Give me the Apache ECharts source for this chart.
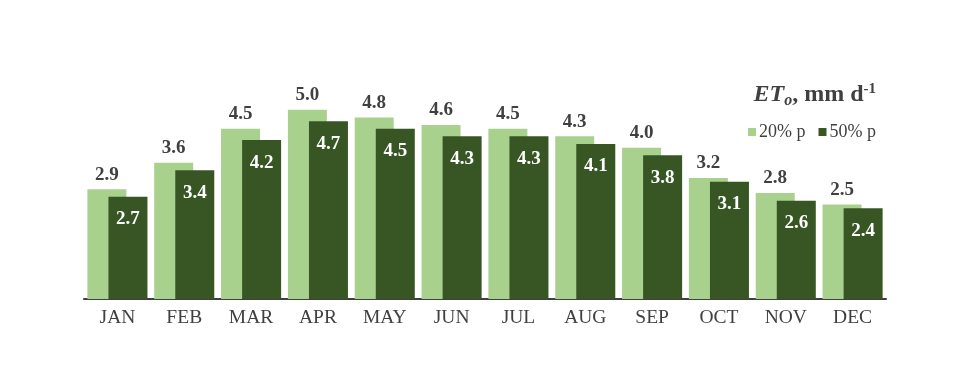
<!DOCTYPE html>
<html><head><meta charset="utf-8">
<script src="https://cdn.jsdelivr.net/npm/echarts@6/dist/echarts.min.js"></script>
<style>html,body{margin:0;padding:0;background:#fff}#c{width:972px;height:388px}</style>
</head><body><div id="c"></div>
<script>
const categories = ['JAN','FEB','MAR','APR','MAY','JUN','JUL','AUG','SEP','OCT','NOV','DEC'];
const p20 = [2.9,3.6,4.5,5.0,4.8,4.6,4.5,4.3,4.0,3.2,2.8,2.5];
const p50 = [2.7,3.4,4.2,4.7,4.5,4.3,4.3,4.1,3.8,3.1,2.6,2.4];
const seriesNames = ['20% p','50% p'];

const serif = '"Liberation Serif","Times New Roman",serif';
const chart = echarts.init(document.getElementById('c'));
chart.setOption({
  animation:false,
  textStyle:{fontFamily:serif},
  title:{
    right:91, top:76,
    text:'{a|ET}{b|o}{c|, mm d}{d|-1}',
    textStyle:{
      rich:{
        a:{fontFamily:serif,fontSize:24,fontWeight:'bold',fontStyle:'italic',color:'#404040'},
        b:{fontFamily:serif,fontSize:16,fontWeight:'bold',fontStyle:'italic',color:'#404040',padding:[12,0,0,0]},
        c:{fontFamily:serif,fontSize:24,fontWeight:'bold',color:'#404040'},
        d:{fontFamily:serif,fontSize:15,fontWeight:'bold',color:'#404040',padding:[0,0,11,0]}
      }
    }
  },
  legend:{
    left:743, top:118,
    icon:'rect', itemWidth:8, itemHeight:8, itemGap:13,
    textStyle:{fontFamily:serif,fontSize:18,color:'#404040',padding:[0,0,0,-2]},
    data:seriesNames
  },
  grid:{left:84,right:86,top:72,bottom:89},
  xAxis:{
    type:'category', data:categories,
    axisLine:{lineStyle:{color:'#404040',width:2}},
    axisTick:{show:false},
    axisLabel:{fontFamily:serif,fontSize:19.5,color:'#404040',margin:9}
  },
  yAxis:{type:'value',min:0,max:6,show:false,splitLine:{show:false}},
  series:[
    {name:seriesNames[0],type:'bar',data:p20,barWidth:39,barGap:'-46%',
     itemStyle:{color:'#a9d18e'},
     label:{show:true,position:'top',distance:5,formatter:p=>p.value.toFixed(1),
       fontFamily:serif,fontSize:19,fontWeight:'bold',color:'#404040'}},
    {name:seriesNames[1],type:'bar',data:p50,barWidth:39,
     itemStyle:{color:'#375623'},
     label:{show:true,position:'insideTop',distance:13,formatter:p=>p.value.toFixed(1),
       fontFamily:serif,fontSize:19,fontWeight:'bold',color:'#ffffff'}}
  ]
});
</script></body></html>
